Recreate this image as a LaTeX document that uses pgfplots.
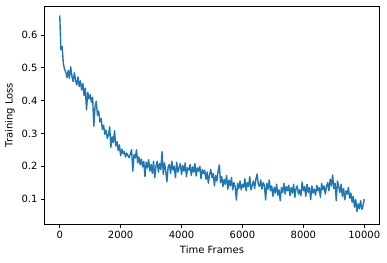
\documentclass[border=0pt]{standalone}
\usepackage{pgfplots}
\pgfplotsset{compat=1.18}
\usepackage{fontspec}
\setmainfont{DejaVu Sans}
\definecolor{mplblue}{HTML}{1F77B4}
\begin{document}
\fontsize{10pt}{12pt}\selectfont
\begin{tikzpicture}
\useasboundingbox (-44.5pt,-37.5pt) rectangle (342.5pt,224.5pt);
\begin{axis}[
  at={(0pt,0pt)}, anchor=south west,
  scale only axis, width=335pt, height=218.5pt,
  xmin=-500, xmax=10500, ymin=0.0223, ymax=0.6884,
  xtick={0,2000,4000,6000,8000,10000},
  ytick={0.1,0.2,0.3,0.4,0.5,0.6},
  scaled x ticks=false, scaled y ticks=false,
  xticklabel style={/pgf/number format/.cd,1000 sep={},assume math mode=true},
  yticklabel style={/pgf/number format/.cd,fixed,precision=1,assume math mode=true},
  tick align=outside, major tick length=3.5pt,
  tick style={black, line width=0.8pt},
  axis line style={line width=0.8pt},
  xtick pos=bottom, ytick pos=left,
  tick label style={font=\fontsize{10pt}{12pt}\selectfont},
  label style={font=\fontsize{10pt}{12pt}\selectfont},
  xlabel={Time Frames}, ylabel={Training Loss},
]
\addplot[mplblue, line width=1.4pt, line join=round] table[row sep=\\] {
x y\\
0 0.660\\ 40 0.555\\ 80 0.565\\ 120 0.512\\ 160 0.495\\ 200 0.487\\ 240 0.470\\ 280 0.492\\ 320 0.468\\ 360 0.503\\
400 0.475\\ 440 0.458\\ 480 0.485\\ 520 0.462\\ 560 0.448\\ 600 0.472\\ 640 0.443\\ 680 0.460\\ 720 0.432\\ 760 0.452\\
800 0.415\\ 840 0.438\\ 880 0.372\\ 920 0.425\\ 960 0.405\\ 1000 0.418\\ 1040 0.395\\ 1080 0.410\\ 1120 0.322\\ 1160 0.382\\
1200 0.398\\ 1240 0.355\\ 1280 0.368\\ 1320 0.335\\ 1360 0.345\\ 1400 0.312\\ 1440 0.325\\ 1480 0.298\\ 1520 0.310\\ 1560 0.285\\
1600 0.295\\ 1640 0.320\\ 1680 0.258\\ 1720 0.290\\ 1760 0.272\\ 1800 0.308\\ 1840 0.262\\ 1880 0.275\\ 1920 0.248\\ 1960 0.265\\
2000 0.232\\ 2040 0.252\\ 2080 0.238\\ 2120 0.245\\ 2160 0.228\\ 2200 0.240\\ 2240 0.232\\ 2280 0.226\\ 2320 0.238\\ 2360 0.250\\
2400 0.185\\ 2440 0.235\\ 2480 0.225\\ 2520 0.250\\ 2560 0.210\\ 2600 0.228\\ 2640 0.205\\ 2680 0.222\\ 2720 0.198\\ 2760 0.215\\
2800 0.168\\ 2840 0.212\\ 2880 0.195\\ 2920 0.220\\ 2960 0.185\\ 3000 0.205\\ 3040 0.178\\ 3080 0.215\\ 3120 0.165\\ 3160 0.200\\
3200 0.215\\ 3240 0.182\\ 3280 0.208\\ 3320 0.190\\ 3360 0.244\\ 3400 0.175\\ 3440 0.210\\ 3480 0.185\\ 3520 0.153\\ 3560 0.198\\
3600 0.205\\ 3640 0.178\\ 3680 0.215\\ 3720 0.188\\ 3760 0.200\\ 3800 0.165\\ 3840 0.212\\ 3880 0.182\\ 3920 0.195\\ 3960 0.208\\
4000 0.175\\ 4040 0.202\\ 4080 0.185\\ 4120 0.210\\ 4160 0.168\\ 4200 0.195\\ 4240 0.188\\ 4280 0.205\\ 4320 0.172\\ 4360 0.198\\
4400 0.182\\ 4440 0.208\\ 4480 0.170\\ 4520 0.195\\ 4560 0.185\\ 4600 0.200\\ 4640 0.162\\ 4680 0.190\\ 4720 0.178\\ 4760 0.188\\
4800 0.160\\ 4840 0.182\\ 4880 0.148\\ 4920 0.175\\ 4960 0.190\\ 5000 0.165\\ 5040 0.178\\ 5080 0.140\\ 5120 0.172\\ 5160 0.155\\
5200 0.185\\ 5240 0.204\\ 5280 0.150\\ 5320 0.168\\ 5360 0.138\\ 5400 0.160\\ 5440 0.145\\ 5480 0.172\\ 5520 0.130\\ 5560 0.158\\
5600 0.140\\ 5640 0.165\\ 5680 0.128\\ 5720 0.150\\ 5760 0.138\\ 5800 0.097\\ 5840 0.148\\ 5880 0.132\\ 5920 0.155\\ 5960 0.128\\
6000 0.145\\ 6040 0.135\\ 6080 0.162\\ 6120 0.125\\ 6160 0.150\\ 6200 0.138\\ 6240 0.168\\ 6280 0.128\\ 6320 0.142\\ 6360 0.155\\
6400 0.132\\ 6440 0.160\\ 6480 0.176\\ 6520 0.145\\ 6560 0.138\\ 6600 0.158\\ 6640 0.130\\ 6680 0.150\\ 6720 0.142\\ 6760 0.097\\
6800 0.148\\ 6840 0.130\\ 6880 0.158\\ 6920 0.125\\ 6960 0.140\\ 7000 0.108\\ 7040 0.135\\ 7080 0.118\\ 7120 0.145\\ 7160 0.112\\
7200 0.128\\ 7240 0.095\\ 7280 0.135\\ 7320 0.120\\ 7360 0.148\\ 7400 0.115\\ 7440 0.138\\ 7480 0.125\\ 7520 0.142\\ 7560 0.110\\
7600 0.135\\ 7640 0.118\\ 7680 0.145\\ 7720 0.105\\ 7760 0.132\\ 7800 0.140\\ 7840 0.115\\ 7880 0.128\\ 7920 0.110\\ 7960 0.152\\
8000 0.125\\ 8040 0.138\\ 8080 0.108\\ 8120 0.145\\ 8160 0.120\\ 8200 0.135\\ 8240 0.098\\ 8280 0.140\\ 8320 0.118\\ 8360 0.130\\
8400 0.112\\ 8440 0.142\\ 8480 0.125\\ 8520 0.135\\ 8560 0.105\\ 8600 0.148\\ 8640 0.128\\ 8680 0.140\\ 8720 0.115\\ 8760 0.138\\
8800 0.150\\ 8840 0.125\\ 8880 0.160\\ 8920 0.140\\ 8960 0.173\\ 9000 0.132\\ 9040 0.148\\ 9080 0.095\\ 9120 0.155\\ 9160 0.138\\
9200 0.120\\ 9240 0.145\\ 9280 0.108\\ 9320 0.132\\ 9360 0.098\\ 9400 0.125\\ 9440 0.115\\ 9480 0.135\\ 9520 0.102\\ 9560 0.118\\
9600 0.090\\ 9640 0.108\\ 9680 0.075\\ 9720 0.098\\ 9760 0.062\\ 9800 0.085\\ 9840 0.070\\ 9880 0.095\\ 9920 0.068\\ 9960 0.080\\
10000 0.100\\
};
\end{axis}
\end{tikzpicture}
\end{document}
